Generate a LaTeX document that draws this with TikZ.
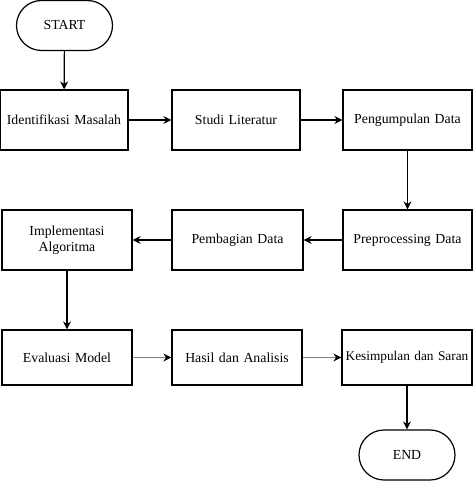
\documentclass[tikz,border=0pt]{standalone}
\usepackage{fontspec}
\setmainfont{Liberation Serif}
\usetikzlibrary{arrows.meta}
\tikzstyle{procbox} = [rectangle, 
minimum width=130pt, 
minimum height=60pt, 
text centered, 
text width=124pt, 
inner sep=0pt, 
line width=1.2pt, 
draw=black, 
fill=white, 
font=\fontsize{13.8}{16}\selectfont]
\tikzstyle{termbox} = [rectangle, 
rounded corners=25pt, 
minimum width=96pt, 
minimum height=50pt, 
inner sep=0pt, 
line width=1.2pt, 
draw=black, 
fill=white, 
font=\fontsize{13.8}{16}\selectfont]
\tikzstyle{arrow} = [line width=1.2pt,->,>={Stealth[length=8pt,width=8pt]}]
\tikzstyle{greyarrow} = [line width=1.6pt,draw=gray,->,>={Stealth[length=8pt,width=8pt,color=black]}]

\begin{document}
\begin{tikzpicture}[x=1pt, y=-1pt]
    \useasboundingbox (0,0) rectangle (474,481);

    \node (start) [termbox] at (64.5,25.5) {START};

    \node (idm) [procbox, minimum width=128pt] at (64,120) {Identifikasi Masalah};
    \node (sl) [procbox, minimum width=128pt] at (236,120) {Studi Literatur};
    \node (pd) [procbox, minimum width=129pt] at (407.5,120) {Pengumpulan Data};

    \node (ia) [procbox] at (67,240) {Implementasi\\Algoritma};
    \node (pbd) [procbox, minimum width=131pt] at (237.5,240) {Pembagian Data};
    \node (ppd) [procbox, minimum width=129pt] at (407.5,240) {Preprocessing Data};

    \node (em) [procbox, minimum height=55pt] at (67,357.5) {Evaluasi Model};
    \node (ha) [procbox, minimum height=55pt] at (237,357.5) {Hasil dan Analisis};
    \node (ks) [procbox, minimum height=55pt, font=\fontsize{13.3}{16}\selectfont] at (407,357.5) {Kesimpulan dan Saran};

    \node (end) [termbox] at (407,455) {END};

    % Top row
    \draw [arrow] (start) -- (idm);
    \draw [arrow] (idm) -- (sl);
    \draw [arrow] (sl) -- (pd);
    \draw [arrow] (pd) -- (ppd);

    % Middle row, back to the left
    \draw [arrow] (ppd) -- (pbd);
    \draw [arrow] (pbd) -- (ia);
    \draw [arrow] (ia) -- (em);

    % Bottom row
    \draw [greyarrow] (em) -- (ha);
    \draw [greyarrow] (ha) -- (ks);
    \draw [arrow] (ks) -- (end);
\end{tikzpicture}
\end{document}
